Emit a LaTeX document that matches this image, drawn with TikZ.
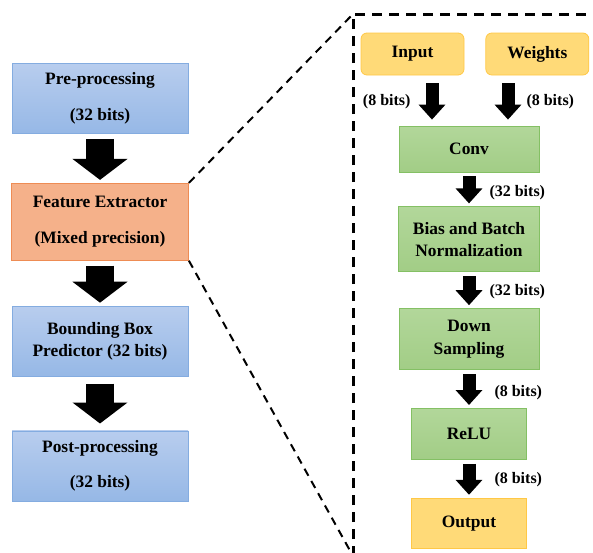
\documentclass[tikz,border=0pt]{standalone}
\usepackage{fontspec}
\setmainfont{Liberation Serif}
\usepackage{xcolor}
\usepackage{tikz}
\usetikzlibrary{arrows.meta, positioning, calc}

\definecolor{bluetop}{RGB}{184,205,238}
\definecolor{bluebot}{RGB}{150,184,230}
\definecolor{blueline}{RGB}{132,172,224}
\definecolor{orangefill}{RGB}{245,177,138}
\definecolor{orangeline}{RGB}{238,140,84}
\definecolor{greentop}{RGB}{178,215,154}
\definecolor{greenbot}{RGB}{162,205,134}
\definecolor{greenline}{RGB}{132,192,100}
\definecolor{yellowfill}{RGB}{255,218,120}
\definecolor{yellowline}{RGB}{255,200,70}

\begin{document}
\begin{tikzpicture}[x=1pt, y=-1pt, >=Stealth]
        \tikzset{
            basenode/.style={rectangle, align=center, font=\fontsize{17.4}{22.5}\selectfont\bfseries, line width=0.8pt, inner sep=2pt},
            stagenode/.style={basenode, draw=blueline, top color=bluetop, bottom color=bluebot, minimum width=176pt, minimum height=70pt},
            featnode/.style={basenode, draw=orangeline, fill=orangefill, minimum width=177pt, minimum height=77pt},
            opnode/.style={basenode, draw=greenline, top color=greentop, bottom color=greenbot, minimum width=140pt},
            ionode/.style={basenode, draw=yellowline, fill=yellowfill},
            fatarrow/.style={line width=28pt, -{Triangle[length=21pt, width=54pt]}, shorten <=5pt, shorten >=3pt},
            thinarrow/.style={line width=13pt, -{Triangle[length=15pt, width=26pt]}, shorten <=4pt, shorten >=3pt},
            bitlabel/.style={font=\fontsize{16}{19}\selectfont\bfseries, inner sep=0pt},
            zoomframe/.style={line width=3pt, dash pattern=on 10pt off 7pt},
            zoomline/.style={line width=2pt, dash pattern=on 8pt off 6pt}
        }
        \useasboundingbox (0,0) rectangle (593,552);

        % left column
        \node [stagenode] (pre) at (100,98.5) {Pre-processing\\[13pt](32 bits)};
        \node [featnode, below=49pt of pre] (feat) {Feature Extractor\\[13pt](Mixed precision)};
        \node [stagenode, below=45pt of feat] (bbox) {Bounding Box\\Predictor (32 bits)};
        \node [stagenode, below=54pt of bbox] (post) {Post-processing\\[13pt](32 bits)};

        \draw [fatarrow] (pre) -- (feat);
        \draw [fatarrow] (feat) -- (bbox);
        \draw [fatarrow, shorten <=7pt, shorten >=7pt] (bbox) -- (post);

        % right column
        \node [ionode, rounded corners=6pt, minimum width=103pt, minimum height=42pt] (input) at (412.5,54) {Input};
        \node [ionode, rounded corners=6pt, minimum width=103pt, minimum height=42pt, right=21pt of input] (weights) {Weights};
        \node [opnode, minimum height=46pt] (conv) at (469,149) {Conv};
        \node [opnode, minimum width=141pt, minimum height=65pt, below=34pt of conv] (bias) {Bias and Batch\\Normalization};
        \node [opnode, minimum height=61pt, below=36pt of bias] (down) {Down\\Sampling};
        \node [opnode, minimum width=115pt, minimum height=51pt, below=38pt of down] (relu) {ReLU};
        \node [ionode, minimum width=115pt, minimum height=50pt, below=38pt of relu] (output) {Output};

        \draw [thinarrow, shorten <=8pt, shorten >=6pt] ([xshift=-37pt]conv.north |- input.south) -- node[bitlabel, left=15pt, yshift=-1pt]{(8 bits)} ([xshift=-37pt]conv.north);
        \draw [thinarrow, shorten <=8pt, shorten >=6pt] ([xshift=39pt]conv.north |- weights.south) -- node[bitlabel, right=12pt, yshift=-1pt]{(8 bits)} ([xshift=39pt]conv.north);
        \draw [thinarrow] (conv) -- node[bitlabel, right=14pt, yshift=-3pt]{(32 bits)} (bias);
        \draw [thinarrow] (bias) -- node[bitlabel, right=14pt, yshift=-1pt]{(32 bits)} (down);
        \draw [thinarrow] (down) -- node[bitlabel, right=19pt, yshift=-4pt]{(8 bits)} (relu);
        \draw [thinarrow] (relu) -- node[bitlabel, right=19pt, yshift=-1pt]{(8 bits)} (output);

        % zoom frame
        \coordinate (frametl) at (353,14);
        \coordinate (framebl) at (353,556);
        \coordinate (frametr) at (596,14);
        \draw [zoomframe] (framebl) -- (frametl) -- (frametr);
        \draw [zoomline] (feat.north east) -- (frametl);
        \draw [zoomline] (feat.south east) -- (framebl);
    \end{tikzpicture}
\end{document}
